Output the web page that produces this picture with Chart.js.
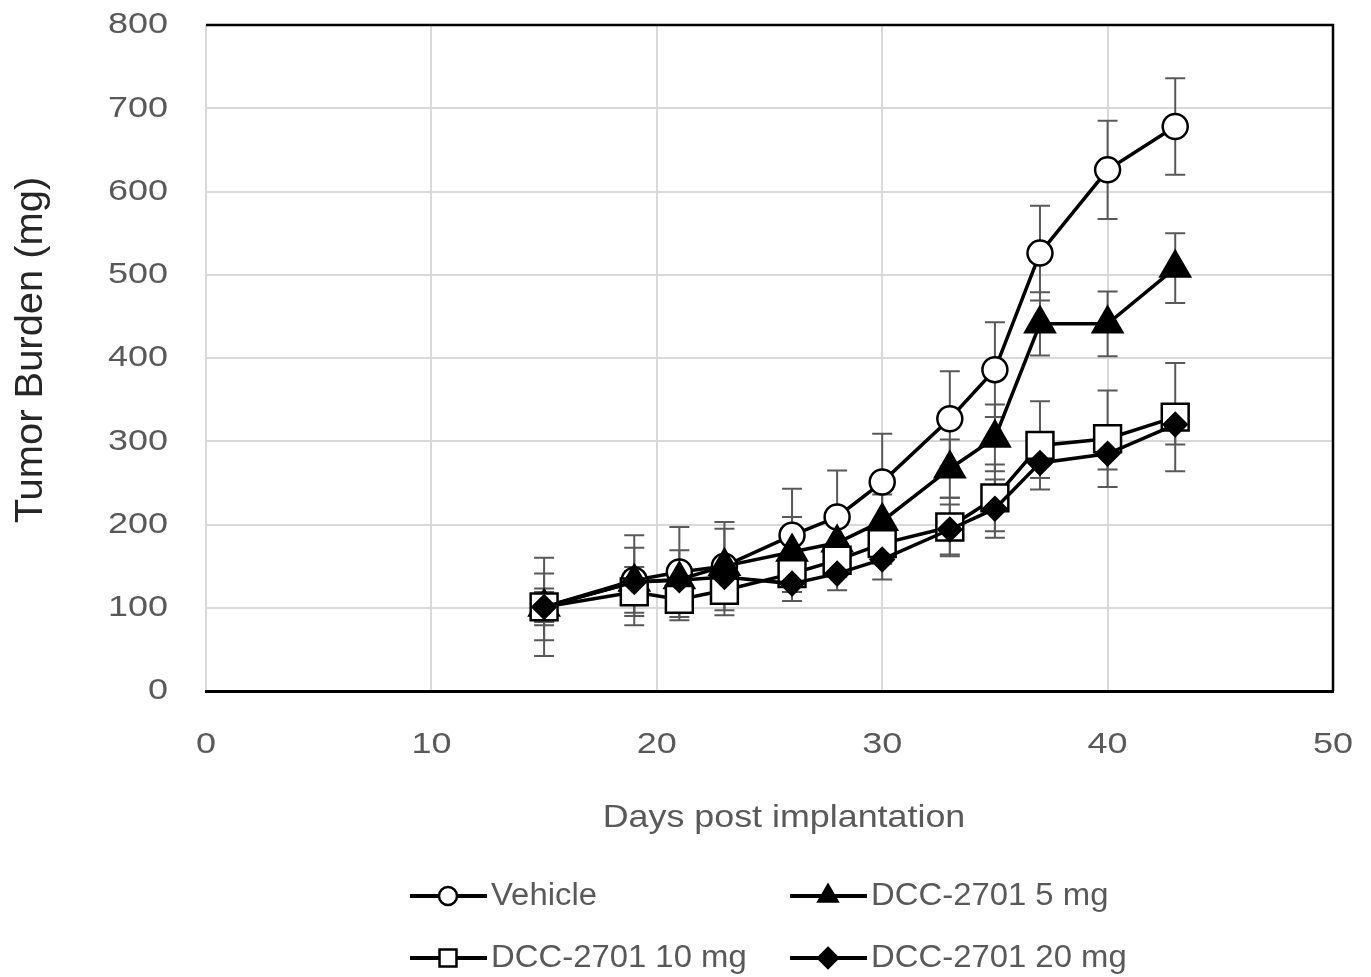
<!DOCTYPE html>
<html>
<head>
<meta charset="utf-8">
<title>Tumor Burden</title>
<script src="https://cdn.jsdelivr.net/npm/chart.js@4.4.1/dist/chart.umd.min.js"></script>
<style>
  html, body { margin: 0; padding: 0; background: #fff; }
  #wrap { width: 1371px; height: 977px; position: relative; }
</style>
</head>
<body>
<div id="wrap"><canvas id="tumorChart" width="1371" height="977"></canvas></div>
<script>
// days post implantation
const days = [15, 19, 21, 23, 26, 28, 30, 33, 35, 37, 40, 43];

// mean tumor burden (mg) and error (+/-)
const vehicle = [101, 133, 143, 150, 187, 209, 251, 327, 386, 526, 626, 678];
const vehicleErr = [59, 54, 54, 53, 56, 56, 58, 57, 57, 57, 59, 58];
const dcc5 = [101, 131, 134, 150, 167, 178, 204, 267, 304, 441, 441, 508];
const dcc5Err = [40, 41, 35, 45, 42, 35, 32, 35, 40, 38, 39, 42];
const dcc10 = [101, 119, 110, 121, 141, 157, 177, 197, 232, 295, 303, 329];
const dcc10Err = [22, 25, 25, 30, 22, 20, 24, 35, 40, 53, 58, 65];
const dcc20 = [101, 131, 133, 137, 129, 141, 158, 194, 219, 274, 285, 320];
const dcc20Err = [18, 18, 15, 15, 21, 20, 24, 30, 35, 18, 19, 24];

const seriesNames = ["Vehicle", "DCC-2701 5 mg", "DCC-2701 10 mg", "DCC-2701 20 mg"];
const xTicks = [0, 10, 20, 30, 40, 50];
const yTicks = [0, 100, 200, 300, 400, 500, 600, 700, 800];

const FONT = "'Liberation Sans', Arial, sans-serif";
const TEXT_GREY = "#595959";

const toPoints = (vals) => vals.map((v, i) => ({ x: days[i], y: v }));

// marker styles for each series
const markers = [
  { style: "circle", radius: 12.5, fill: "#ffffff", legendR: 9 },
  { style: "triangle", radius: 17, fill: "#000000", legendR: 11 },
  { style: "rect", radius: 19, fill: "#ffffff", legendR: 12 },
  { style: "rectRot", radius: 11.5, fill: "#000000", legendR: 10 },
];
const values = [vehicle, dcc5, dcc10, dcc20];
const errors = [vehicleErr, dcc5Err, dcc10Err, dcc20Err];

function makeDataset(i) {
  const m = markers[i];
  return {
    label: seriesNames[i],
    data: toPoints(values[i]),
    errors: errors[i],
    showLine: true,
    borderColor: "#000000",
    borderWidth: 3.5,
    pointStyle: m.style,
    pointRadius: m.radius,
    pointHoverRadius: m.radius,
    pointBackgroundColor: m.fill,
    pointBorderColor: "#000000",
    pointBorderWidth: 2.5,
    order: 4 - i,
  };
}

// text slightly stretched horizontally, like the original export
function drawText(ctx, text, x, y, size, sx, align) {
  ctx.save();
  ctx.font = `${size}px ${FONT}`;
  ctx.textBaseline = "middle";
  ctx.textAlign = align;
  ctx.translate(x, y);
  ctx.scale(sx, 1);
  ctx.fillText(text, 0, 0);
  ctx.restore();
}

// error bars under the markers
const errorBars = {
  id: "errorBars",
  beforeDatasetsDraw(chart) {
    const { ctx, scales: { x, y }, chartArea } = chart;
    ctx.save();
    // plot border: top and right black
    ctx.strokeStyle = "#000";
    ctx.lineWidth = 2.5;
    ctx.beginPath();
    ctx.moveTo(chartArea.left, chartArea.top);
    ctx.lineTo(chartArea.right, chartArea.top);
    ctx.lineTo(chartArea.right, chartArea.bottom);
    ctx.stroke();

    ctx.strokeStyle = "#595959";
    ctx.lineWidth = 2;
    chart.data.datasets.forEach((ds) => {
      ds.data.forEach((p, i) => {
        const e = ds.errors[i];
        const px = x.getPixelForValue(p.x);
        const top = y.getPixelForValue(p.y + e);
        const bot = y.getPixelForValue(p.y - e);
        ctx.beginPath();
        ctx.moveTo(px, top);
        ctx.lineTo(px, bot);
        ctx.moveTo(px - 10, top);
        ctx.lineTo(px + 10, top);
        ctx.moveTo(px - 10, bot);
        ctx.lineTo(px + 10, bot);
        ctx.stroke();
      });
    });
    ctx.restore();
  },
};

function drawMarker(ctx, style, x, y, r, fill) {
  ctx.beginPath();
  if (style === "circle") {
    ctx.arc(x, y, r, 0, Math.PI * 2);
  } else if (style === "triangle") {
    ctx.moveTo(x, y - r);
    ctx.lineTo(x + r * 0.87, y + r * 0.5);
    ctx.lineTo(x - r * 0.87, y + r * 0.5);
    ctx.closePath();
  } else if (style === "rect") {
    const s = r * Math.SQRT1_2;
    ctx.rect(x - s, y - s, 2 * s, 2 * s);
  } else {
    ctx.moveTo(x, y - r);
    ctx.lineTo(x + r, y);
    ctx.lineTo(x, y + r);
    ctx.lineTo(x - r, y);
    ctx.closePath();
  }
  ctx.fillStyle = fill;
  ctx.fill();
  ctx.stroke();
}

// tick labels, axis titles + legend
const labelsAndLegend = {
  id: "labelsAndLegend",
  afterDraw(chart) {
    const { ctx, scales: { x, y }, chartArea } = chart;
    ctx.save();
    ctx.fillStyle = TEXT_GREY;

    yTicks.forEach((v) => {
      drawText(ctx, String(v), chartArea.left - 38, y.getPixelForValue(v), 30, 1.2, "right");
    });
    xTicks.forEach((v) => {
      drawText(ctx, String(v), x.getPixelForValue(v), chartArea.bottom + 54, 30, 1.2, "center");
    });

    drawText(ctx, "Days post implantation", 784, 818, 32, 1.12, "center");

    ctx.save();
    ctx.translate(32, 350);
    ctx.rotate(-Math.PI / 2);
    ctx.fillStyle = "#262626";
    drawText(ctx, "Tumor Burden (mg)", 0, 0, 38, 1.05, "center");
    ctx.restore();

    const cols = [410, 790];
    const rows = [896, 958];
    seriesNames.forEach((name, i) => {
      const lx = cols[i % 2];
      const ly = rows[Math.floor(i / 2)];
      const m = markers[i];
      ctx.strokeStyle = "#000";
      ctx.lineWidth = 4;
      ctx.beginPath();
      ctx.moveTo(lx, ly);
      ctx.lineTo(lx + 77, ly);
      ctx.stroke();
      ctx.lineWidth = 2.5;
      drawMarker(ctx, m.style, lx + 38, ly, m.legendR, m.fill);
      ctx.fillStyle = TEXT_GREY;
      drawText(ctx, name, lx + 81, ly, 31, 1.06, "left");
    });
    ctx.restore();
  },
};

const ctx = document.getElementById("tumorChart").getContext("2d");
new Chart(ctx, {
  type: "scatter",
  data: { datasets: [0, 1, 2, 3].map(makeDataset) },
  options: {
    responsive: false,
    animation: false,
    events: [],
    layout: { padding: { left: 0, right: 38, top: 25, bottom: 0 } },
    plugins: {
      legend: { display: false },
      tooltip: { enabled: false },
    },
    scales: {
      x: {
        type: "linear",
        min: 0,
        max: 50,
        afterFit: (scale) => {
          scale.height = 286;
          scale.paddingLeft = 0;
          scale.paddingRight = 0;
        },
        afterBuildTicks: (scale) => { scale.ticks = xTicks.map((v) => ({ value: v })); },
        ticks: { display: false },
        grid: { color: "#d9d9d9", lineWidth: 2, drawTicks: false },
        border: { display: true, color: "#000", width: 3 },
      },
      y: {
        type: "linear",
        min: 0,
        max: 800,
        afterFit: (scale) => {
          scale.width = 206;
          scale.paddingTop = 0;
          scale.paddingBottom = 0;
        },
        afterBuildTicks: (scale) => { scale.ticks = yTicks.map((v) => ({ value: v })); },
        ticks: { display: false },
        grid: { color: "#d9d9d9", lineWidth: 2, drawTicks: false },
        border: { display: false },
      },
    },
  },
  plugins: [errorBars, labelsAndLegend],
});
</script>
</body>
</html>
